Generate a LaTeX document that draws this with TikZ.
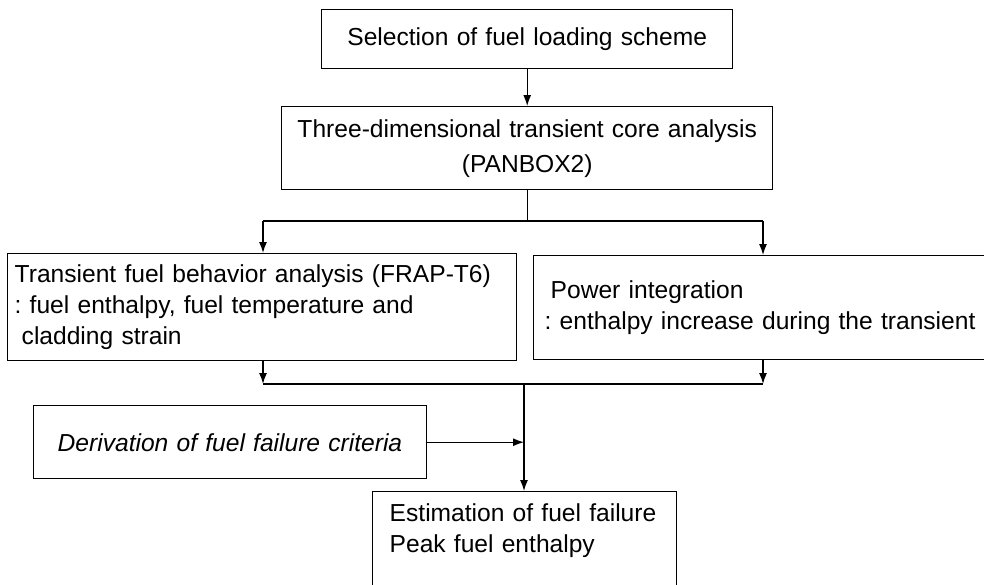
\documentclass[tikz,border=0pt]{standalone}
\usepackage{fontspec}
\setmainfont{Liberation Sans}
\usetikzlibrary{arrows.meta}
\begin{document}
\begin{tikzpicture}[x=1pt,y=-1pt,
  box/.style={draw,line width=1.4pt,anchor=north west,inner ysep=0pt,
    font=\fontsize{24.6}{31}\selectfont\frenchspacing,align=left},
  arr/.style={line width=1.3pt,-{Latex[length=11pt,width=8pt]}},
  ln/.style={line width=1.3pt}]
\useasboundingbox (0,0) rectangle (984,584);
\node[box,align=center,inner xsep=0pt,text width=411pt,minimum height=59pt] (box1) at (321,9)
  {Selection of fuel loading scheme};
\node[box,align=center,inner xsep=0pt,text width=491pt,minimum height=83pt,
  font=\fontsize{24.6}{35}\selectfont] (box2) at (281,106)
  {Three-dimensional transient core analysis\\(PANBOX2)};
\node[box,inner xsep=7pt,text width=495pt,minimum height=107pt] (box3) at (7,253)
  {\mbox{Transient fuel behavior analysis (FRAP-T6)}\\\mbox{: fuel enthalpy, fuel temperature and}\\\mbox{\hspace*{7pt}cladding strain}};
\node[box,inner xsep=11pt,text width=440pt,minimum height=104pt] (box4) at (533,255)
  {\mbox{\hspace*{6pt}Power integration}\\\mbox{: enthalpy increase during the transient}};
\node[box,inner xsep=24pt,text width=345pt,minimum height=73pt,font=\fontsize{24.6}{31}\selectfont\itshape] (box5) at (33,405)
  {\mbox{Derivation of fuel failure criteria}};
\node[box,inner xsep=17pt,text width=270pt,minimum height=104pt] (box6) at (372,491)
  {\mbox{Estimation of fuel failure}\\\mbox{Peak fuel enthalpy}\\~};
\coordinate (jl) at (263,221);
\coordinate (jr) at (763,221);
\coordinate (kl) at (263,384);
\coordinate (kr) at (763,384);
\coordinate (km) at (524,384);
\draw[arr] (box1.south) -- (box2.north);
\draw[ln] (box2.south) -- (box2.south |- jl);
\draw[ln] (jl) -- (jr);
\draw[arr] (jl) -- (jl |- box3.north);
\draw[arr] (jr) -- (jr |- box4.north);
\draw[arr] (kl |- box3.south) -- (kl);
\draw[arr] (kr |- box4.south) -- (kr);
\draw[ln] (kl) -- (kr);
\draw[arr] (km) -- (km |- box6.north);
\draw[arr] (box5.east) -- (km |- box5.east);
\end{tikzpicture}
\end{document}
